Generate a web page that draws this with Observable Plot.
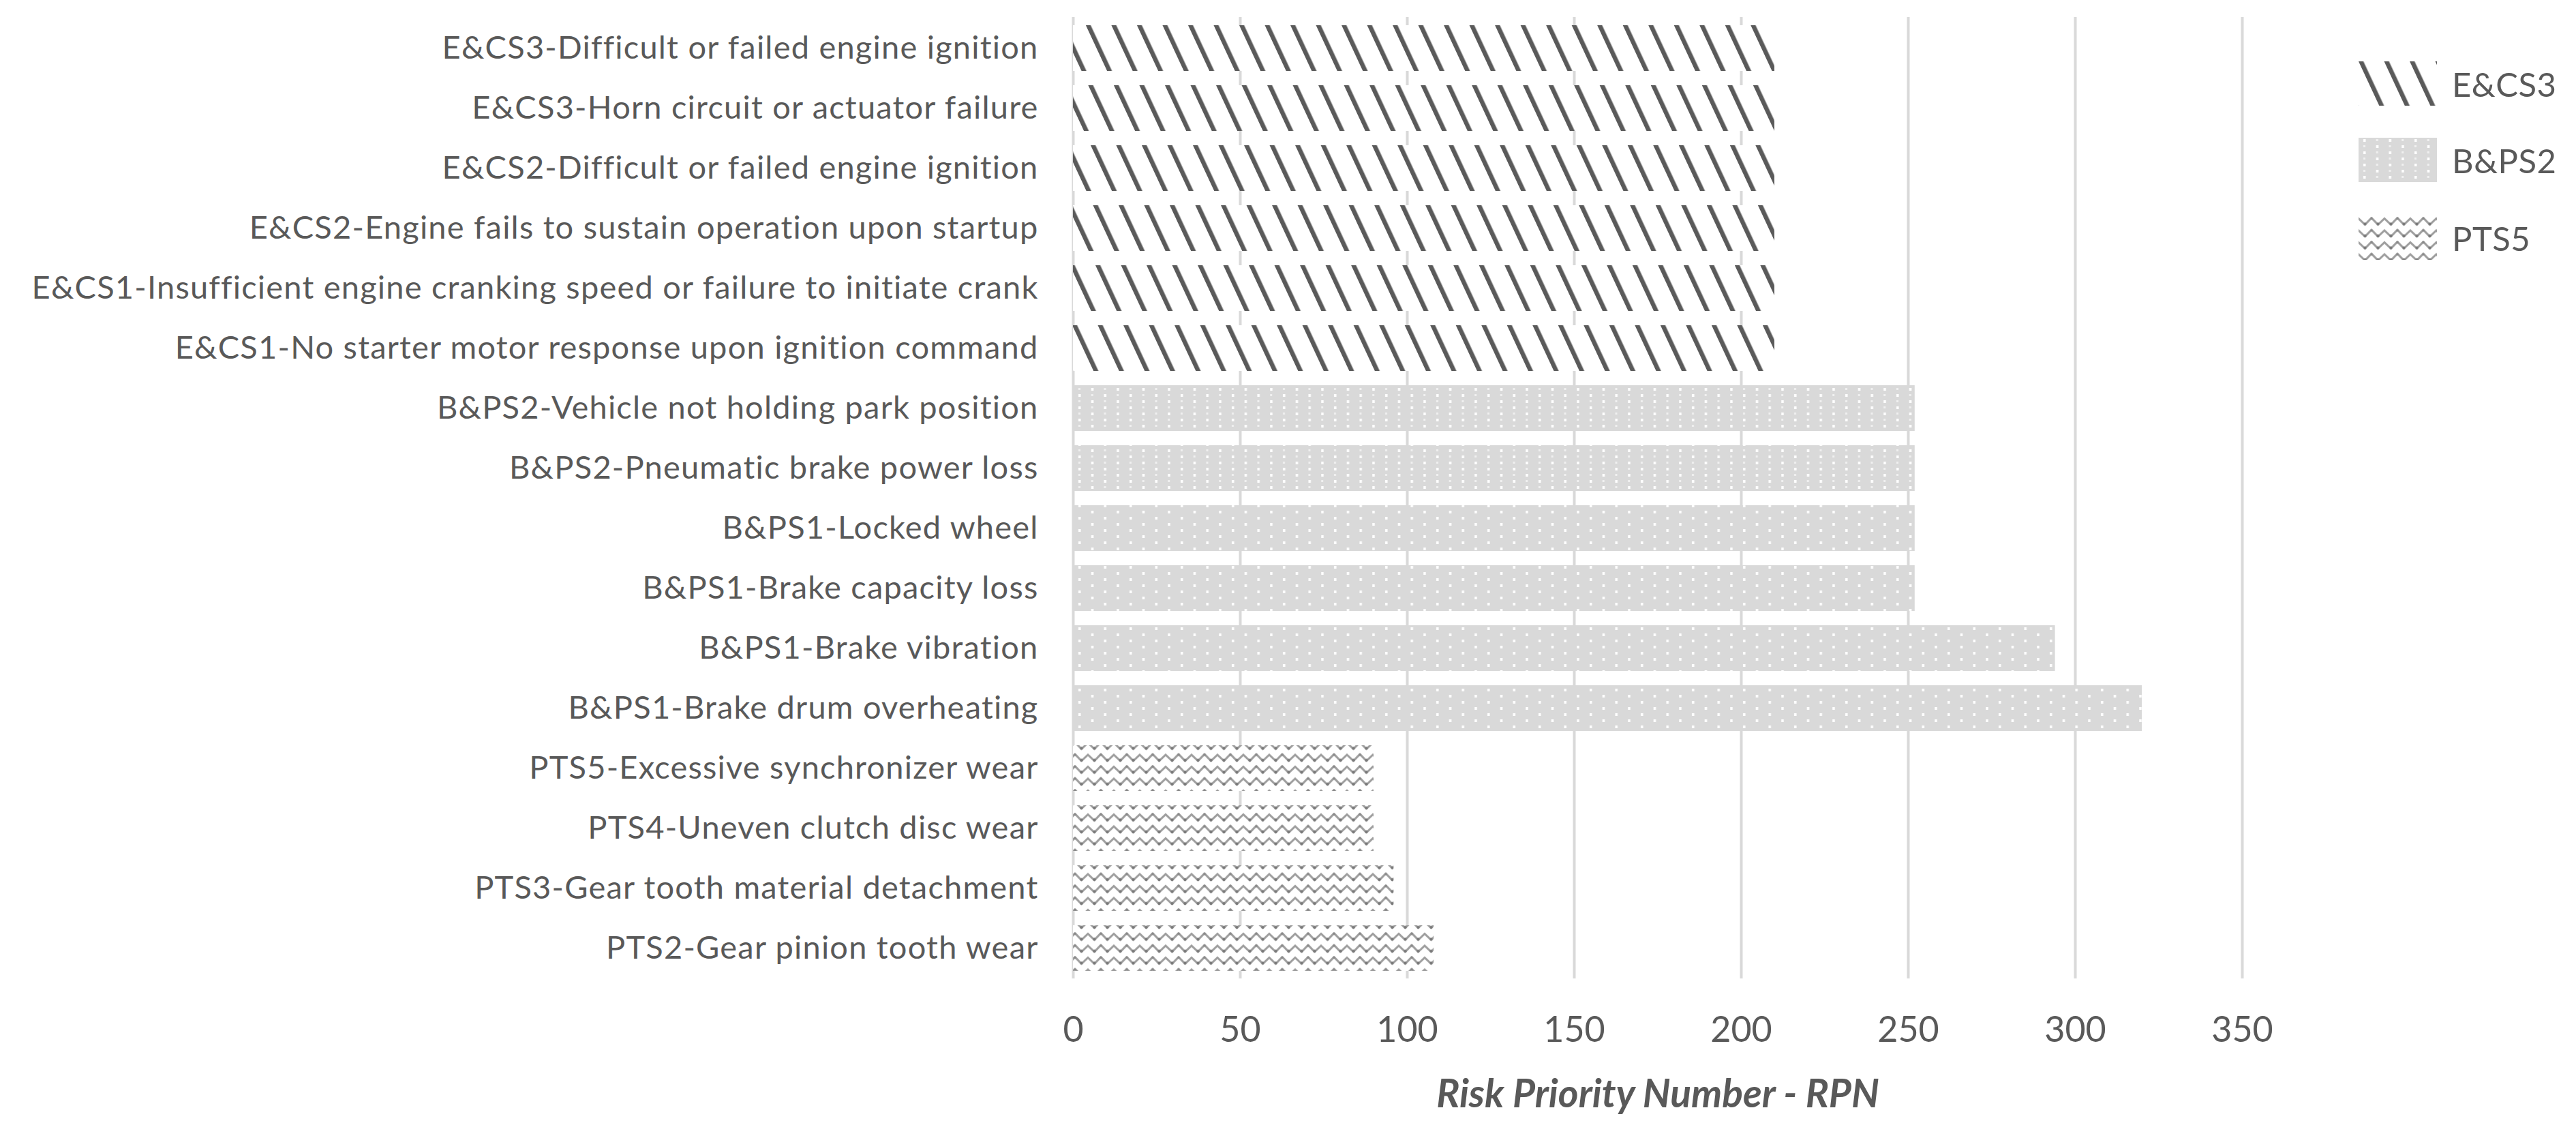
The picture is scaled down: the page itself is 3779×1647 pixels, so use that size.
<!DOCTYPE html>
<html>
<head>
<meta charset="utf-8">
<script src="https://cdn.jsdelivr.net/npm/d3@7"></script>
<script src="https://cdn.jsdelivr.net/npm/@observablehq/plot@0.6"></script>
<style>
  html, body { margin: 0; padding: 0; background: #ffffff; }
  #wrap { position: relative; width: 3779px; height: 1647px; overflow: hidden; font-family: Lato, "Liberation Sans", sans-serif; }
  #legend { position: absolute; left: 3460px; top: 0; }
  .lg-item { position: absolute; left: 0; display: flex; align-items: center; white-space: nowrap; }
  .lg-item span { margin-left: 22px; font-size: 49px; color: #595959; letter-spacing: 0.5px; }
  g[aria-label="x-axis label"] { font-weight: 700; font-style: italic; font-size: 57px; }
  g[aria-label="y-axis tick label"] text { letter-spacing: 1.2px; }
</style>
</head>
<body>
<svg width="0" height="0" style="position:absolute">
  <defs>
    <pattern id="pE" patternUnits="userSpaceOnUse" width="34" height="34" patternTransform="rotate(-25)">
      <rect width="34" height="34" fill="#ffffff"/>
      <rect x="0" y="0" width="6.5" height="34" fill="#5a5a5a"/>
    </pattern>
    <pattern id="pB2" patternUnits="userSpaceOnUse" width="37.5" height="18">
      <rect width="37.5" height="18" fill="#d9d9d9"/>
      <rect x="7" y="2" width="3.5" height="4" fill="#ffffff"/>
      <rect x="25.75" y="11" width="3.5" height="4" fill="#ffffff"/>
      <rect x="25.75" y="2" width="3" height="3" fill="#ffffff" opacity="0.6"/>
      <rect x="7" y="11" width="3" height="3" fill="#ffffff" opacity="0.6"/>
    </pattern>
    <pattern id="pB1" patternUnits="userSpaceOnUse" width="37.5" height="18">
      <rect width="37.5" height="18" fill="#d9d9d9"/>
      <rect x="7" y="2" width="3.5" height="4" fill="#ffffff"/>
      <rect x="25.75" y="11" width="3.5" height="4" fill="#ffffff"/>
    </pattern>
    <pattern id="pP" patternUnits="userSpaceOnUse" width="38" height="17.5">
      <rect width="38" height="17.5" fill="#ffffff"/>
      <path d="M-1,3.5 L9.5,13.5 L19,3.5 L28.5,13.5 L39,3.5" fill="none" stroke="#9e9e9e" stroke-width="3" stroke-linejoin="round"/>
      <circle cx="9.5" cy="12.5" r="2.2" fill="#7a7a7a"/>
      <circle cx="28.5" cy="12.5" r="2.2" fill="#7a7a7a"/>
      <circle cx="19" cy="4.5" r="1.8" fill="#8a8a8a"/>
    </pattern>
  </defs>
</svg>
<div id="wrap"></div>
<script>
// ---- data ----
const labels = [
  "E&CS3-Difficult or failed engine ignition",
  "E&CS3-Horn circuit or actuator failure",
  "E&CS2-Difficult or failed engine ignition",
  "E&CS2-Engine fails to sustain operation upon startup",
  "E&CS1-Insufficient engine cranking speed or failure to initiate crank",
  "E&CS1-No starter motor response upon ignition command",
  "B&PS2-Vehicle not holding park position",
  "B&PS2-Pneumatic brake power loss",
  "B&PS1-Locked wheel",
  "B&PS1-Brake capacity loss",
  "B&PS1-Brake vibration",
  "B&PS1-Brake drum overheating",
  "PTS5-Excessive synchronizer wear",
  "PTS4-Uneven clutch disc wear",
  "PTS3-Gear tooth material detachment",
  "PTS2-Gear pinion tooth wear"
];
const rpn = [210, 210, 210, 210, 210, 210, 252, 252, 252, 252, 294, 320, 90, 90, 96, 108];
const groups = ["E&CS3","E&CS3","E&CS2","E&CS2","E&CS1","E&CS1","B&PS2","B&PS2","B&PS1","B&PS1","B&PS1","B&PS1","PTS5","PTS4","PTS3","PTS2"];
const xTicks = [0, 50, 100, 150, 200, 250, 300, 350];
const legendNames = ["E&CS3", "B&PS2", "PTS5"];
const xLabel = "Risk Priority Number - RPN";

const rows = labels.map((label, i) => ({label, value: rpn[i], group: groups[i]}));
const isE = d => d.group.startsWith("E&CS");
const isB2 = d => d.group === "B&PS2";
const isB1 = d => d.group === "B&PS1";
const isP = d => d.group.startsWith("PTS");

const chart = Plot.plot({
  width: 3779,
  height: 1647,
  marginLeft: 1574,
  marginRight: 490,
  marginTop: 25,
  marginBottom: 212,
  style: {fontFamily: "Lato, 'Liberation Sans', sans-serif", color: "#595959", background: "#ffffff"},
  x: {domain: [0, 350]},
  y: {domain: labels, paddingInner: 0.24, paddingOuter: 0.095},
  marks: [
    Plot.ruleX(xTicks, {stroke: "#d9d9d9", strokeWidth: 4}),
    Plot.barX(rows.filter(isE), {x: "value", y: "label", fill: "url(#pE)"}),
    Plot.barX(rows.filter(isB2), {x: "value", y: "label", fill: "url(#pB2)"}),
    Plot.barX(rows.filter(isB1), {x: "value", y: "label", fill: "url(#pB1)"}),
    Plot.barX(rows.filter(isP), {x: "value", y: "label", fill: "url(#pP)"}),
    Plot.axisY({tickSize: 0, tickPadding: 51, fontSize: 47, label: null}),
    Plot.axisX({ticks: xTicks, tickSize: 0, tickPadding: 56, fontSize: 52, tickFormat: d => String(d),
      label: xLabel, labelAnchor: "center", labelArrow: "none", labelOffset: 188})
  ]
});
const wrap = document.getElementById("wrap");
wrap.appendChild(chart);

// ---- legend ----
const legendFills = ["url(#pE)", "url(#pB2)", "url(#pP)"];
const legendTops = [90, 202, 316];
const legend = document.createElement("div");
legend.id = "legend";
legendNames.forEach((name, i) => {
  const item = document.createElement("div");
  item.className = "lg-item";
  item.style.top = legendTops[i] + "px";
  const sw = d3.create("svg").attr("width", 115).attr("height", 65);
  sw.append("rect").attr("width", 115).attr("height", 65).attr("fill", legendFills[i]);
  item.appendChild(sw.node());
  const sp = document.createElement("span");
  sp.textContent = name;
  item.appendChild(sp);
  legend.appendChild(item);
});
wrap.appendChild(legend);
</script>
</body>
</html>
